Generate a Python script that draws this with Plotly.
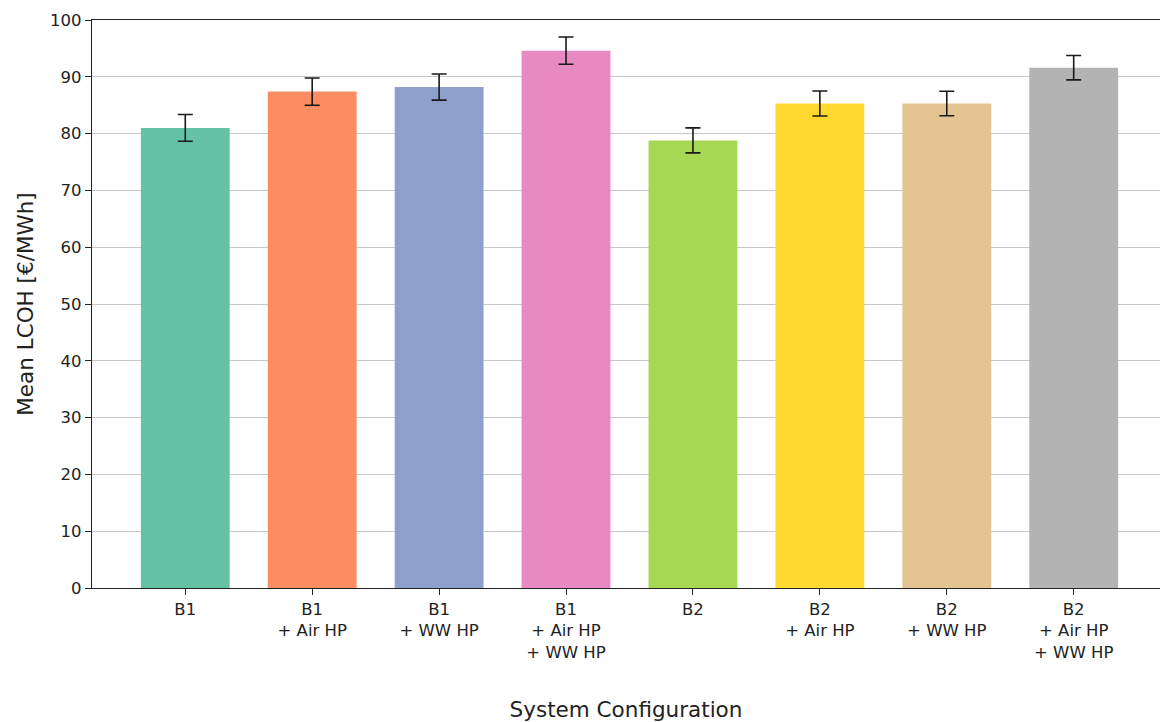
import plotly.graph_objects as go

categories = ["B1", "B1<br>+ Air HP", "B1<br>+ WW HP", "B1<br>+ Air HP<br>+ WW HP",
              "B2", "B2<br>+ Air HP", "B2<br>+ WW HP", "B2<br>+ Air HP<br>+ WW HP"]
mean_lcoh = [81.0, 87.4, 88.2, 94.6, 78.8, 85.3, 85.3, 91.6]
err_lcoh = [2.35, 2.4, 2.3, 2.4, 2.2, 2.2, 2.15, 2.15]
colors = ["#66c2a5", "#fc8d62", "#8da0cb", "#e78ac3",
          "#a6d854", "#ffd92f", "#e5c494", "#b3b3b3"]
y_ticks = [0, 10, 20, 30, 40, 50, 60, 70, 80, 90, 100]

x_idx = list(range(len(categories)))

fig = go.Figure()
fig.add_trace(go.Bar(
    x=x_idx, y=mean_lcoh, width=0.7,
    marker=dict(color=colors, line=dict(width=0)),
    error_y=dict(type="data", array=err_lcoh, color="#1a1a1a", thickness=1.6, width=7.5),
    showlegend=False,
))

font_family = "DejaVu Sans"
text_color = "#222222"
fig.update_layout(
    width=1160, height=722,
    margin=dict(l=92, r=0, t=20, b=134),
    plot_bgcolor="white", paper_bgcolor="white",
    font=dict(family=font_family, color=text_color, size=16),
)
fig.update_xaxes(
    range=[-0.735, 7.68],
    tickmode="array", tickvals=x_idx, ticktext=categories,
    tickfont=dict(size=16.5, family=font_family, color=text_color),
    ticks="outside", ticklen=6, tickwidth=1, tickcolor="#222",
    showline=True, linecolor="#222", linewidth=1.2, mirror=True,
    showgrid=False, zeroline=False,
    title=dict(text="System Configuration", font=dict(size=21.5, family=font_family, color=text_color), standoff=41),
)
fig.update_yaxes(
    range=[0, 100],
    tickmode="array", tickvals=y_ticks,
    tickfont=dict(size=16.5, family=font_family, color=text_color),
    ticks="outside", ticklen=6, tickwidth=1, tickcolor="#222",
    showline=True, linecolor="#222", linewidth=1.2, mirror=False,
    showgrid=True, gridcolor="#c8c8c8", gridwidth=1,
    zeroline=False,
    title=dict(text="Mean LCOH [€/MWh]", font=dict(size=21.5, family=font_family, color=text_color), standoff=10),
)
fig.update_traces(cliponaxis=False)

fig.write_html("out.html")
